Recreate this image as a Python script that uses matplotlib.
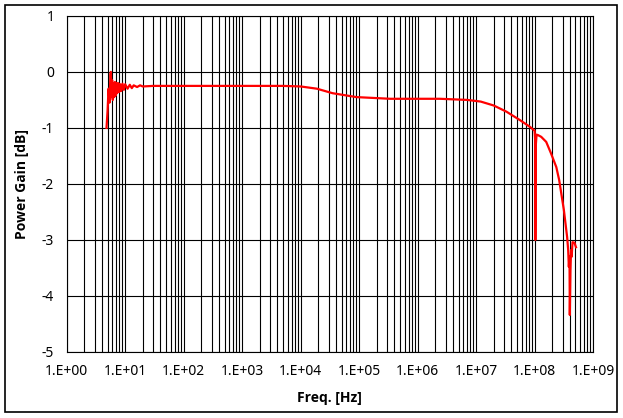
import math
import matplotlib
matplotlib.use("Agg")
import matplotlib.pyplot as plt
from matplotlib.patches import Rectangle
from matplotlib.ticker import LogLocator, FuncFormatter

plt.rcParams["font.family"] = ["Noto Sans", "DejaVu Sans"]
plt.rcParams["axes.unicode_minus"] = False

# frequency response
FREQ_HZ = [4.8, 5.0, 5.2, 5.4, 5.6, 5.7, 5.85, 6.0, 6.15, 6.3, 6.5, 6.7, 6.9, 7.1, 7.3,
           7.6, 7.9, 8.2, 8.6, 9.0, 9.5, 10, 11, 12, 13, 14, 16, 18, 20, 30, 100,
           1e3, 5e3, 1e4, 1.9e4, 3.5e4, 9e4, 3.4e5, 2.4e6, 7e6, 1.2e7, 2e7, 3.3e7,
           5.6e7, 8.3e7, 1.0e8, 1.02e8, 1.03e8, 1.05e8, 1.08e8, 1.15e8, 1.3e8, 1.58e8,
           1.9e8, 2.35e8, 2.63e8, 3.16e8, 3.6e8, 3.75e8, 3.85e8, 3.95e8, 4.0e8,
           4.1e8, 4.2e8, 4.3e8, 4.45e8, 4.8e8, 5.1e8]
GAIN_DB = [-1.0, -0.7, -0.3, -0.55, -0.05, 0.0, -0.45, -0.15, -0.5, -0.2, -0.45, -0.18,
           -0.42, -0.2, -0.38, -0.2, -0.36, -0.22, -0.34, -0.21, -0.32, -0.22, -0.3,
           -0.23, -0.29, -0.24, -0.27, -0.24, -0.26, -0.25, -0.25, -0.25, -0.25, -0.26,
           -0.30, -0.38, -0.45, -0.48, -0.48, -0.50, -0.53, -0.60, -0.71,
           -0.86, -0.98, -1.05, -1.2, -3.0, -1.3, -1.12, -1.13, -1.16, -1.25, -1.45,
           -1.7, -1.93, -2.46, -2.95, -3.18, -3.48, -3.3, -4.34, -3.54, -3.18, -3.3,
           -3.04, -3.05, -3.13]

Y_TICKS = [1, 0, -1, -2, -3, -4, -5]

fig = plt.figure(figsize=(6.23, 4.18), dpi=100)
fig.patches.append(Rectangle((5 / 623, 1 - 412 / 418), 612 / 623, 407 / 418,
                             transform=fig.transFigure, fill=False,
                             edgecolor="black", lw=1.2))
ax = fig.add_axes([0.107, 0.158, 0.845, 0.804])

ax.plot(FREQ_HZ, GAIN_DB, color="#ff0000", lw=1.6, zorder=3)

ax.set_xscale("log")
ax.set_xlim(1, 1e9)
ax.set_ylim(-5, 1)
ax.xaxis.set_major_locator(LogLocator(base=10, numticks=12))
ax.xaxis.set_minor_locator(LogLocator(base=10, subs=range(2, 10), numticks=12))
ax.xaxis.set_major_formatter(FuncFormatter(lambda v, p: "1.E+%02d" % round(math.log10(v))))
ax.set_yticks(Y_TICKS)
ax.grid(True, which="major", color="black", lw=0.8)
ax.grid(True, which="minor", axis="x", color="black", lw=0.8)
ax.tick_params(which="both", length=0, labelsize=10)
ax.tick_params(axis="x", pad=9)
ax.tick_params(axis="y", pad=9)
for s in ax.spines.values():
    s.set_color("black")
    s.set_linewidth(0.8)

ax.set_xlabel("Freq. [Hz]", fontsize=10, fontweight="bold", labelpad=8,
              family=["Open Sans", "DejaVu Sans"])
ax.set_ylabel("Power Gain [dB]", fontsize=10, fontweight="bold", labelpad=9,
              family=["Open Sans", "DejaVu Sans"])

fig.savefig("out.png", dpi=100)
